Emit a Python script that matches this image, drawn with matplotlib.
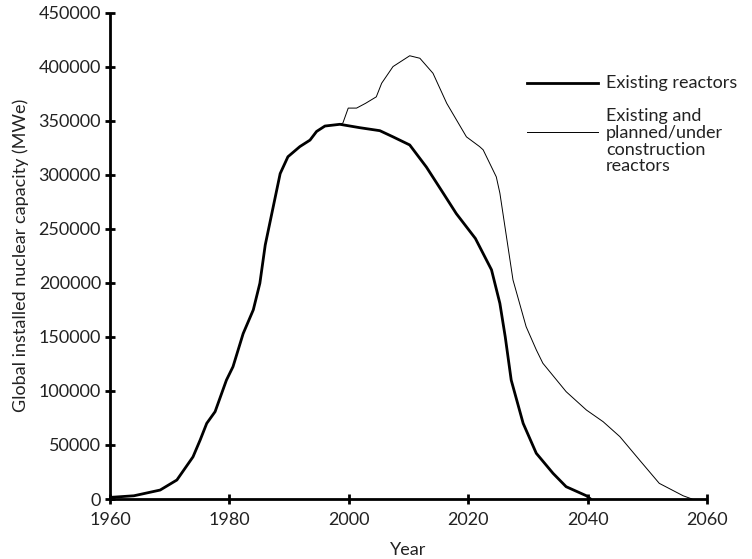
import matplotlib
matplotlib.use("Agg")
import matplotlib.pyplot as plt

plt.rcParams['font.family'] = ['Lato', 'DejaVu Sans']

existing_years = [1960, 1964, 1968.4, 1971.2, 1973.9, 1975.1, 1976.2, 1977.6, 1979.5,
                  1980.6, 1982.3, 1984.0, 1985.1, 1986.0, 1988.5, 1989.8, 1991.8,
                  1993.5, 1994.6, 1996.0, 1998.5, 2001.8, 2005.2, 2007.4, 2010.2,
                  2013.0, 2015.8, 2018.0, 2021.2, 2023.9, 2025.3, 2026.2, 2027.2,
                  2029.2, 2031.4, 2034.2, 2036.4, 2039.8, 2040.5]
existing_values = [1500, 3000, 8300, 17600, 39000, 54600, 70000, 80800, 110000,
                   122400, 153000, 175000, 199600, 235000, 301000, 316600, 326000,
                   332000, 340000, 345000, 346600, 343500, 340700, 335000, 327500,
                   307000, 283000, 264000, 241000, 212000, 181000, 150000, 110000,
                   70000, 42300, 23800, 11400, 3000, 0]

planned_years = [1998.5, 1999.0, 1999.9, 2001.3, 2002.8, 2004.6, 2005.5, 2007.4,
                 2010.2, 2011.9, 2014.1, 2016.4, 2019.7, 2021.9, 2022.5, 2024.7,
                 2025.3, 2027.5, 2029.7, 2031.4, 2032.5, 2036.4, 2039.8, 2042.6,
                 2045.4, 2048.7, 2052.0, 2056.0, 2057.5]
planned_values = [346600, 347700, 361600, 361600, 366000, 372000, 384600, 400000,
                  410000, 407700, 393800, 366000, 335000, 326000, 323000, 298000,
                  283000, 202600, 159400, 138000, 125600, 99300, 82300, 71500,
                  57700, 36000, 14500, 3000, 0]

x_ticks = [1960, 1980, 2000, 2020, 2040, 2060]
y_ticks = [0, 50000, 100000, 150000, 200000, 250000, 300000, 350000, 400000, 450000]

labels = ["Existing reactors", "Existing and\nplanned/under\nconstruction\nreactors"]

FS = 13

fig = plt.figure(figsize=(7.52, 5.59), dpi=100)
ax = fig.add_axes([0.1463, 0.1073, 0.7939, 0.8703])

ax.plot(planned_years, planned_values, color='black', linewidth=0.7, solid_capstyle='round')
ax.plot(existing_years, existing_values, color='black', linewidth=2.0, solid_capstyle='round',
        solid_joinstyle='round')

ax.set_xlim(1960, 2060)
ax.set_ylim(0, 450000)
ax.set_xticks(x_ticks)
ax.set_yticks(y_ticks)
ax.set_xticklabels([str(t) for t in x_ticks])
ax.set_yticklabels([str(t) for t in y_ticks])

for s in ['top', 'right']:
    ax.spines[s].set_visible(False)
for s in ['left', 'bottom']:
    ax.spines[s].set_linewidth(2.0)
    ax.spines[s].set_capstyle('butt')

ax.tick_params(axis='both', direction='inout', length=7, width=2.0,
               labelsize=FS, colors='black', labelcolor='#222222')
ax.tick_params(axis='y', pad=3)
ax.tick_params(axis='x', pad=6)

ax.set_xlabel("Year", fontsize=FS, color='#222222', labelpad=10)
ax.set_ylabel("Global installed nuclear capacity (MWe)", fontsize=FS, color='#222222', labelpad=7)

# legend drawn manually in axes coordinates
tr = ax.transAxes
ax.plot([0.6985, 0.8175], [0.855, 0.855], transform=tr, color='black', linewidth=2.0, clip_on=False)
ax.plot([0.6985, 0.8175], [0.755, 0.755], transform=tr, color='black', linewidth=0.7, clip_on=False)
ax.text(0.831, 0.855, labels[0], transform=tr, fontsize=FS, color='#222222', va='center', ha='left')
ax.text(0.831, 0.803, labels[1], transform=tr, fontsize=FS, color='#222222', va='top', ha='left',
        linespacing=1.05)

fig.savefig("out.png", dpi=100)
